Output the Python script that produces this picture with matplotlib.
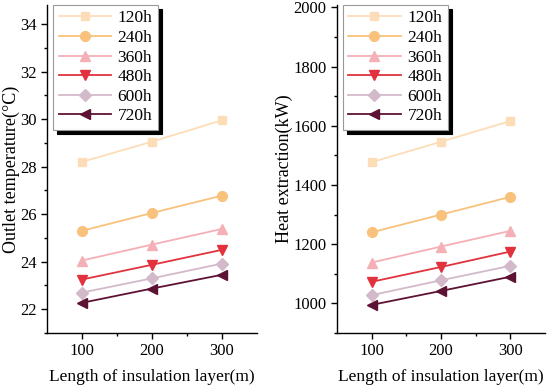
import matplotlib.pyplot as plt
import numpy as np

plt.rcParams["font.family"] = ["Liberation Serif", "DejaVu Serif"]
plt.rcParams["mathtext.fontset"] = "stix"

# data
lengths = [100, 200, 300]
hours = ["120h", "240h", "360h", "480h", "600h", "720h"]

outlet_120 = [28.2, 29.05, 29.95]
outlet_240 = [25.3, 26.05, 26.78]
outlet_360 = [24.05, 24.72, 25.38]
outlet_480 = [23.25, 23.87, 24.5]
outlet_600 = [22.7, 23.3, 23.92]
outlet_720 = [22.27, 22.87, 23.45]

heat_120 = [1477, 1546, 1616]
heat_240 = [1240, 1300, 1360]
heat_360 = [1138, 1192, 1245]
heat_480 = [1073, 1123, 1175]
heat_600 = [1028, 1078, 1127]
heat_720 = [995, 1042, 1090]

outlet = [outlet_120, outlet_240, outlet_360, outlet_480, outlet_600, outlet_720]
heat = [heat_120, heat_240, heat_360, heat_480, heat_600, heat_720]

colors = ["#FDDDB8", "#F9C27C", "#F4B0B6", "#E1323D", "#D3BACB", "#5E1233"]
markers = ["s", "o", "^", "v", "D", "<"]
msizes = [6, 7, 7, 7, 6, 7]

fig = plt.figure(figsize=(5.5, 3.9), dpi=100)
ax1 = fig.add_axes([47 / 550, 57 / 390, 210 / 550, 328 / 390])
ax2 = fig.add_axes([337 / 550, 57 / 390, 208 / 550, 328 / 390])


def draw(ax, series, ylim, ylabel, yticks):
    for k, ys in enumerate(series):
        ax.plot(lengths, ys, color=colors[k], marker=markers[k],
                markersize=msizes[k], linewidth=1.3, label=hours[k])
    ax.set_xlim(50, 350)
    ax.set_ylim(*ylim)
    ax.set_xticks([100, 200, 300])
    ax.set_xticks([150, 250], minor=True)
    ax.set_yticks(yticks)
    ax.set_yticks(np.arange(yticks[0] - (yticks[1] - yticks[0]) / 2,
                            ylim[1], (yticks[1] - yticks[0]) / 2), minor=True)
    ax.spines["top"].set_visible(False)
    ax.spines["right"].set_visible(False)
    for s in ["left", "bottom"]:
        ax.spines[s].set_linewidth(1.0)
    ax.tick_params(which="major", direction="out", length=4, width=1.0,
                   labelsize=12)
    ax.tick_params(which="minor", direction="out", length=2.5, width=1.0)
    ax.set_xlabel("Length of insulation layer(m)", fontsize=12.5, labelpad=7)
    ax.set_ylabel(ylabel, fontsize=13, labelpad=0)
    leg = ax.legend(loc="upper left", bbox_to_anchor=(0.03, 1.0),
                    fontsize=12.5, handlelength=3.0, handletextpad=0.4,
                    labelspacing=0.2, borderpad=0.3, borderaxespad=0.0,
                    fancybox=False, edgecolor="#999999", framealpha=1,
                    shadow={"color": "black", "alpha": 1, "ox": 3, "oy": -3})
    leg.get_frame().set_linewidth(0.8)


draw(ax1, outlet, (21, 34.8), "Outlet temperature(°C)", [22, 24, 26, 28, 30, 32, 34])
draw(ax2, heat, (900, 2008), "Heat extraction(kW)", [1000, 1200, 1400, 1600, 1800, 2000])

fig.savefig("out.png", dpi=100)
